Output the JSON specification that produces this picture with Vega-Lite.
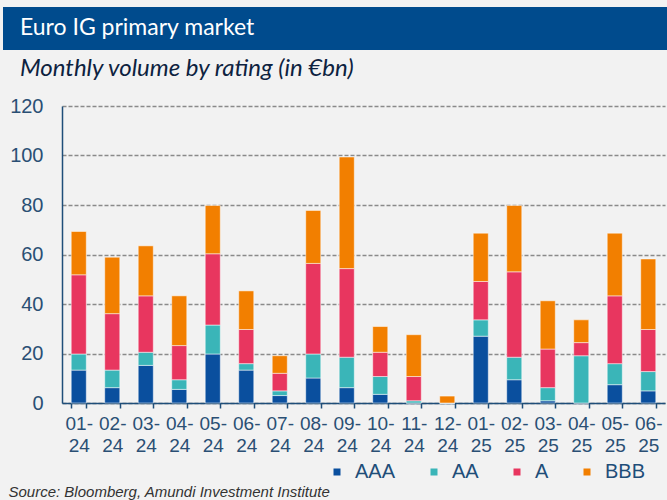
{
  "$schema": "https://vega.github.io/schema/vega-lite/v6.json",
  "width": 603,
  "height": 297,
  "autosize": "none",
  "padding": {"left": 62, "top": 106, "right": 2, "bottom": 98},
  "background": "#f2f2f2",
  "title": {
    "text": "Euro IG primary market",
    "subtitle": "Monthly volume by rating (in €bn)",
    "anchor": "start",
    "frame": "group",
    "dx": -42,
    "offset": -74,
    "font": "Lato",
    "fontSize": 23,
    "fontWeight": "normal",
    "color": "#ffffff",
    "subtitleFont": "Lato",
    "subtitleFontSize": 24,
    "subtitleFontStyle": "italic",
    "subtitleColor": "#0d2240",
    "subtitlePadding": 17
  },
  "config": {
    "view": {"stroke": null},
    "axis": {"labelFont": "Liberation Sans", "titleFont": "Liberation Sans"},
    "legend": {"labelFont": "Liberation Sans"}
  },
  "layer": [
    {
      "data": {"values": [{"band": "header"}]},
      "mark": {"type": "rect", "color": "#004b8d"},
      "encoding": {
        "x": {"value": -59},
        "x2": {"value": 605},
        "y": {"value": -99},
        "y2": {"value": -56}
      }
    },
    {
      "data": {
        "values": [
          {"month": "01-24", "AAA": 13.3, "AA": 6.5, "A": 32.0, "BBB": 17.5},
          {"month": "02-24", "AAA": 6.2, "AA": 7.1, "A": 22.8, "BBB": 22.8},
          {"month": "03-24", "AAA": 15.2, "AA": 5.3, "A": 22.8, "BBB": 20.2},
          {"month": "04-24", "AAA": 5.5, "AA": 3.9, "A": 13.8, "BBB": 20.1},
          {"month": "05-24", "AAA": 19.8, "AA": 11.7, "A": 28.8, "BBB": 19.5},
          {"month": "06-24", "AAA": 13.3, "AA": 2.6, "A": 13.8, "BBB": 15.6},
          {"month": "07-24", "AAA": 3.0, "AA": 1.9, "A": 7.1, "BBB": 7.1},
          {"month": "08-24", "AAA": 10.1, "AA": 9.7, "A": 36.6, "BBB": 21.4},
          {"month": "09-24", "AAA": 6.2, "AA": 12.3, "A": 35.8, "BBB": 45.1},
          {"month": "10-24", "AAA": 3.5, "AA": 7.2, "A": 9.8, "BBB": 10.4},
          {"month": "11-24", "AAA": 0, "AA": 0.9, "A": 9.8, "BBB": 16.9},
          {"month": "12-24", "AAA": 0, "AA": 0, "A": 0, "BBB": 2.8},
          {"month": "01-25", "AAA": 27.0, "AA": 6.6, "A": 15.5, "BBB": 19.5},
          {"month": "02-25", "AAA": 9.4, "AA": 9.1, "A": 34.5, "BBB": 26.8},
          {"month": "03-25", "AAA": 0.9, "AA": 5.3, "A": 15.6, "BBB": 19.5},
          {"month": "04-25", "AAA": 0, "AA": 19.1, "A": 5.3, "BBB": 9.2},
          {"month": "05-25", "AAA": 7.4, "AA": 8.5, "A": 27.4, "BBB": 25.3},
          {"month": "06-25", "AAA": 4.9, "AA": 7.8, "A": 17.0, "BBB": 28.5}
        ]
      },
      "transform": [
        {"fold": ["AAA", "AA", "A", "BBB"], "as": ["rating", "volume"]},
        {
          "lookup": "rating",
          "from": {
            "data": {
              "values": [
                {"rating": "AAA", "rank": 1},
                {"rating": "AA", "rank": 2},
                {"rating": "A", "rank": 3},
                {"rating": "BBB", "rank": 4}
              ]
            },
            "key": "rating",
            "fields": ["rank"]
          }
        }
      ],
      "mark": {"type": "bar", "stroke": "#ffffff", "strokeWidth": 0.5},
      "encoding": {
        "x": {
          "field": "month",
          "type": "ordinal",
          "sort": null,
          "scale": {"paddingInner": 0.55, "paddingOuter": 0.275},
          "axis": {
            "title": "Source: Bloomberg, Amundi Investment Institute",
            "titleFontStyle": "italic",
            "titleFontWeight": "normal",
            "titleFontSize": 15,
            "titleColor": "#333333",
            "titleAnchor": "start",
            "titleAlign": "left",
            "titleBaseline": "alphabetic",
            "titleX": -54,
            "titleY": 93,
            "labelAngle": 0,
            "labelExpr": "[slice(datum.label, 0, 3), slice(datum.label, 3)]",
            "labelFontSize": 19,
            "labelColor": "#2a4f74",
            "labelLineHeight": 22,
            "labelPadding": 6,
            "tickBand": "extent",
            "tickSize": 5,
            "tickColor": "#1f4e79",
            "tickWidth": 1.5,
            "domainColor": "#1f4e79",
            "domainWidth": 1.5,
            "grid": false
          }
        },
        "y": {
          "aggregate": "sum",
          "field": "volume",
          "type": "quantitative",
          "scale": {"domain": [0, 120], "nice": false},
          "axis": {
            "title": null,
            "values": [0, 20, 40, 60, 80, 100, 120],
            "labelFontSize": 20,
            "labelColor": "#2a4f74",
            "labelPadding": 19,
            "ticks": false,
            "domainColor": "#1f4e79",
            "domainWidth": 1.5,
            "grid": true,
            "gridColor": "#8a8a8a",
            "gridWidth": 1.3,
            "gridDash": [4, 2]
          }
        },
        "color": {
          "field": "rating",
          "type": "nominal",
          "sort": ["AAA", "AA", "A", "BBB"],
          "scale": {
            "domain": ["AAA", "AA", "A", "BBB"],
            "range": ["#0a4f9e", "#3ab5b8", "#e8365f", "#f27f00"]
          },
          "legend": {
            "title": null,
            "orient": "none",
            "direction": "horizontal",
            "legendX": 265,
            "legendY": 356,
            "padding": 0,
            "symbolType": "square",
            "symbolSize": 49,
            "symbolStrokeWidth": 0,
            "labelFontSize": 20,
            "labelColor": "#1f4e79",
            "labelOffset": 8,
            "columnPadding": 28
          }
        },
        "order": {"field": "rank", "type": "quantitative"}
      }
    }
  ]
}
